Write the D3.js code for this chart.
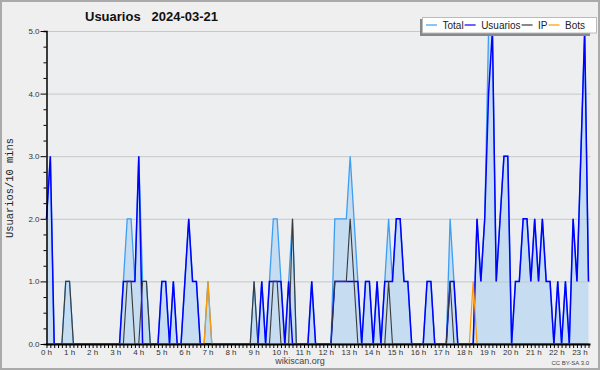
<!DOCTYPE html>
<html>
<head>
<meta charset="utf-8">
<script src="https://cdn.jsdelivr.net/npm/d3@7"></script>
<style>
  body { margin: 0; background: #fff; }
  svg { display: block; }
  text { font-family: "Liberation Sans", Arial, sans-serif; fill: #222; }
</style>
</head>
<body>
<div id="chart"></div>
<script>
// one value per 10 minutes, 00:00 .. 23:30
var title = 'Usuarios\u00a0\u00a0 2024-03-21';
var yLabel = 'Usuarios/10 mins';
var hourLabels = ['0 h','1 h','2 h','3 h','4 h','5 h','6 h','7 h','8 h','9 h','10 h','11 h',
                  '12 h','13 h','14 h','15 h','16 h','17 h','18 h','19 h','20 h','21 h','22 h','23 h'];
var yTicks = [0, 1, 2, 3, 4, 5];

var total = [
  2,3,0,0,0,1,1,0,0,0,0,0,
  0,0,0,0,0,0,0,0,1,2,2,1,
  3,1,1,0,0,0,1,1,0,1,0,0,
  1,2,1,1,0,0,1,0,0,0,0,0,
  0,0,0,0,0,0,1,0,1,0,1,2,
  2,1,0,1,2,0,0,0,0,1,0,0,
  0,0,0,2,2,2,2,3,2,1,0,1,
  1,0,1,0,1,2,1,2,2,1,1,0,
  0,0,0,1,1,0,0,0,0,2,1,0,
  0,0,0,0,2,1,2,5,5,1,2,3,
  3,0,1,1,2,2,1,2,1,2,1,1,
  0,1,0,1,0,2,1,3,5,1
];
var usuarios = [
  2,3,0,0,0,0,0,0,0,0,0,0,
  0,0,0,0,0,0,0,0,1,1,1,1,
  3,0,0,0,0,0,1,1,0,1,0,0,
  1,2,1,1,0,0,0,0,0,0,0,0,
  0,0,0,0,0,0,0,0,1,0,1,1,
  1,1,0,1,0,0,0,0,0,1,0,0,
  0,0,0,1,1,1,1,1,1,1,0,1,
  1,0,1,0,1,1,1,2,2,1,1,0,
  0,0,0,1,1,0,0,0,0,1,1,0,
  0,0,0,0,2,1,2,4,5,1,2,3,
  3,0,1,1,2,2,1,2,1,2,1,1,
  0,1,0,1,0,2,1,3,5,1
];
var ip = [
  0,0,0,0,0,1,1,0,0,0,0,0,
  0,0,0,0,0,0,0,0,0,1,1,0,
  0,1,1,0,0,0,0,0,0,0,0,0,
  0,0,0,0,0,0,0,0,0,0,0,0,
  0,0,0,0,0,0,1,0,0,0,0,1,
  1,0,0,0,2,0,0,0,0,0,0,0,
  0,0,0,1,1,1,1,2,1,0,0,0,
  0,0,0,0,0,1,0,0,0,0,0,0,
  0,0,0,0,0,0,0,0,0,1,0,0,
  0,0,0,0,0,0,0,0,0,0,0,0,
  0,0,0,0,0,0,0,0,0,0,0,0,
  0,0,0,0,0,0,0,0,0,0
];
var bots = [
  0,0,0,0,0,0,0,0,0,0,0,0,
  0,0,0,0,0,0,0,0,0,0,0,0,
  0,0,0,0,0,0,0,0,0,0,0,0,
  0,0,0,0,0,0,1,0,0,0,0,0,
  0,0,0,0,0,0,0,0,0,0,0,0,
  0,0,0,0,0,0,0,0,0,0,0,0,
  0,0,0,0,0,0,0,0,0,0,0,0,
  0,0,0,0,0,0,0,0,0,0,0,0,
  0,0,0,0,0,0,0,0,0,0,0,0,
  0,0,0,1,0,0,0,0,0,0,0,0,
  0,0,0,0,0,0,0,0,0,0,0,0,
  0,0,0,0,0,0,0,0,0,0
];

var series = [
  { name: 'Total',    values: total,    color: '#3d9ef2', width: 1.3 },
  { name: 'Usuarios', values: usuarios, color: '#0000ff', width: 1.5 },
  { name: 'IP',       values: ip,       color: '#3a3a3a', width: 1.1 },
  { name: 'Bots',     values: bots,     color: '#ff9900', width: 1.2 }
];

var W = 600, H = 370;
var svg = d3.select('#chart').append('svg')
    .attr('width', W)
    .attr('height', H);

svg.append('rect')
    .attr('x', 1).attr('y', 1)
    .attr('width', W - 2).attr('height', H - 2)
    .attr('fill', '#efefef')
    .attr('stroke', '#aaa')
    .attr('stroke-width', 2);

var x = d3.scaleLinear().domain([0, total.length - 1]).range([46.5, 588.5]);
var y = d3.scaleLinear().domain([0, 5]).range([344, 31]);

svg.append('rect')
    .attr('x', x(0)).attr('y', y(5))
    .attr('width', x(total.length - 1) - x(0) + 2)
    .attr('height', y(0) - y(5))
    .attr('fill', '#edeef0');

// area under total
svg.append('path')
    .datum(total)
    .attr('fill', '#c6dcf0')
    .attr('d', d3.area()
        .x(function(d, i) { return x(i); })
        .y0(y(0))
        .y1(function(d) { return y(d); }));

// grid
svg.append('g').selectAll('line')
    .data(yTicks.slice(1))
    .enter().append('line')
    .attr('x1', x(0)).attr('x2', x(total.length - 1) + 2)
    .attr('y1', function(d) { return y(d) + 0.5; })
    .attr('y2', function(d) { return y(d) + 0.5; })
    .attr('stroke', '#c8c8c8')
    .attr('stroke-width', 1);

var line = d3.line()
    .x(function(d, i) { return x(i); })
    .y(function(d) { return y(d); });

svg.append('g').selectAll('path')
    .data(series)
    .enter().append('path')
    .attr('fill', 'none')
    .attr('stroke', function(s) { return s.color; })
    .attr('stroke-width', function(s) { return s.width; })
    .attr('stroke-linejoin', 'miter')
    .attr('d', function(s) { return line(s.values); });

// y axis
var yAxis = svg.append('g').attr('transform', 'translate(' + x(0) + ',0)');
yAxis.call(d3.axisLeft(y).tickValues(d3.range(0, 5.01, 0.25)).tickSize(3).tickFormat(''));
yAxis.call(function(g) {
    g.selectAll('.tick')
        .filter(function(d) { return d % 1 === 0; })
        .select('line').attr('x2', -6);
    g.selectAll('.tick')
        .filter(function(d) { return d % 1 === 0; })
        .append('text')
        .attr('x', -7).attr('dy', '0.32em')
        .attr('text-anchor', 'end')
        .style('font-size', '8px')
        .style('fill', '#333')
        .text(function(d) { return d3.format('.1f')(d); });
    g.selectAll('line').attr('stroke', '#000');
    g.select('.domain').attr('stroke', '#000').attr('stroke-width', 1.5);
});

// x axis
var xAxis = svg.append('g').attr('transform', 'translate(0,' + y(0) + ')');
xAxis.call(d3.axisBottom(x).tickValues(d3.range(0, total.length)).tickSize(4).tickFormat(''));
xAxis.select('.domain').attr('stroke', '#000').attr('stroke-width', 2)
    .attr('d', 'M' + x(0) + ',0.5H' + (x(total.length - 1) + 2));
xAxis.selectAll('line').attr('stroke', '#000');

svg.append('g').selectAll('text')
    .data(hourLabels)
    .enter().append('text')
    .attr('x', function(d, i) { return x(i * 6) + (i < 10 ? 0 : 3); })
    .attr('y', 354.5)
    .attr('text-anchor', 'middle')
    .style('font-size', '8px')
    .style('fill', '#333')
    .text(function(d) { return d; });

// titles
svg.append('text')
    .attr('x', 85).attr('y', 21)
    .style('font-size', '13px')
    .style('font-weight', 'bold')
    .style('fill', '#111')
    .text(title);

svg.append('text')
    .attr('transform', 'translate(13,188) rotate(-90)')
    .attr('text-anchor', 'middle')
    .style('font-family', '"Liberation Mono", "DejaVu Sans Mono", monospace')
    .style('font-size', '10.4px')
    .style('fill', '#222')
    .text(yLabel);

svg.append('text')
    .attr('x', 300).attr('y', 364)
    .attr('text-anchor', 'middle')
    .style('font-size', '9px')
    .style('fill', '#444')
    .text('wikiscan.org');

svg.append('text')
    .attr('x', 589).attr('y', 365)
    .attr('text-anchor', 'end')
    .style('font-size', '6px')
    .style('fill', '#444')
    .text('CC BY-SA 3.0');

// legend
var legend = svg.append('g');
legend.append('rect')
    .attr('x', 420).attr('y', 19).attr('width', 170).attr('height', 17)
    .attr('fill', '#888');
legend.append('rect')
    .attr('x', 422.5).attr('y', 17.5).attr('width', 174).attr('height', 15.5)
    .attr('fill', '#fff').attr('stroke', '#bbb');

var lx = 426;
series.forEach(function(s) {
    legend.append('line')
        .attr('x1', lx).attr('x2', lx + 11)
        .attr('y1', 25).attr('y2', 25)
        .attr('stroke', s.color).attr('stroke-width', 1.2);
    var t = legend.append('text')
        .attr('x', lx + 16.5).attr('y', 28.6)
        .style('font-size', '10px')
        .style('fill', '#222')
        .text(s.name);
    lx += 16.5 + t.node().getComputedTextLength() + 1;
});
</script>
</body>
</html>
